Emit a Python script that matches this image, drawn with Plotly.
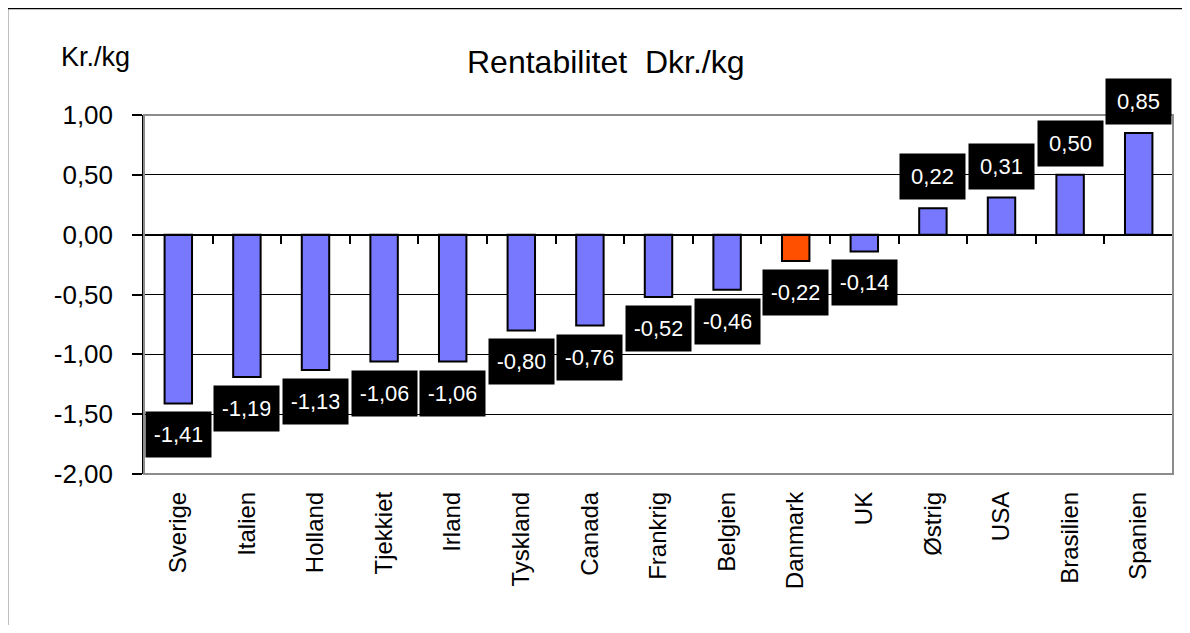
import plotly.graph_objects as go

countries = ["Sverige", "Italien", "Holland", "Tjekkiet", "Irland", "Tyskland", "Canada",
             "Frankrig", "Belgien", "Danmark", "UK", "Østrig", "USA", "Brasilien", "Spanien"]
values = [-1.41, -1.19, -1.13, -1.06, -1.06, -0.80, -0.76, -0.52, -0.46, -0.22, -0.14,
          0.22, 0.31, 0.50, 0.85]
highlight = "Danmark"
y_ticks = [-2.0, -1.5, -1.0, -0.5, 0.0, 0.5, 1.0]
title_text = "Rentabilitet  Dkr./kg"
unit_text = "Kr./kg"


def fmt(v):
    return f"{v:.2f}".replace(".", ",")


FONT = "Liberation Sans, Arial, sans-serif"
BLUE = "#7878FF"
ORANGE = "#FF5000"
colors = [ORANGE if c == highlight else BLUE for c in countries]

# page offset (default body margin)
OFF = 8
W, H = 1182, 617
L, T = 144 - OFF, 115 - OFF
plot_right, plot_bottom = 1173 - OFF, 474 - OFF
R, B = W - plot_right, H - plot_bottom
pw, ph = W - L - R, H - T - B


def px_x(p):
    return (p - OFF - L) / pw


def px_y(p):
    return (plot_bottom - (p - OFF)) / ph


fig = go.Figure()
fig.add_trace(go.Bar(
    x=countries, y=values, width=0.4,
    marker=dict(color=colors, line=dict(color="black", width=2)),
    hoverinfo="skip", showlegend=False,
))
# invisible helper trace for the category axis drawn at zero
fig.add_trace(go.Scatter(
    x=countries, y=values, xaxis="x2", yaxis="y", mode="markers",
    marker=dict(opacity=0), hoverinfo="skip", showlegend=False,
))

ymin, ymax = y_ticks[0], y_ticks[-1]
zero_pos = (0 - ymin) / (ymax - ymin)

fig.update_layout(
    width=W, height=H,
    margin=dict(l=L, r=R, t=T, b=B, pad=0),
    paper_bgcolor="white", plot_bgcolor="white",
    font=dict(family=FONT, color="black"),
    xaxis=dict(
        type="category", categoryorder="array", categoryarray=countries,
        range=[-0.5, len(countries) - 0.5],
        showgrid=False, showline=False, zeroline=False, ticks="",
        tickangle=-90, tickfont=dict(size=24, family=FONT, color="black"),
        ticklabelstandoff=12,
    ),
    xaxis2=dict(
        type="category", categoryorder="array", categoryarray=countries,
        range=[-0.5, len(countries) - 0.5],
        overlaying="x", anchor="free", position=zero_pos, side="bottom",
        showgrid=False, zeroline=False, showticklabels=False,
        showline=True, linecolor="black", linewidth=1.5,
        ticks="outside", tickson="boundaries", ticklen=9, tickwidth=1.5, tickcolor="black",
    ),
    yaxis=dict(
        range=[ymin, ymax], tickvals=y_ticks, ticktext=[fmt(v) for v in y_ticks],
        showgrid=True, gridcolor="black", gridwidth=1,
        zeroline=False, showline=True, linecolor="black", linewidth=1.5,
        ticks="outside", ticklen=10, tickwidth=1.5, tickcolor="black",
        tickfont=dict(size=26, family=FONT, color="black"),
        ticklabelstandoff=14,
    ),
)

shapes = [
    # plot area border (gray)
    dict(type="rect", xref="paper", yref="paper", x0=0, x1=1, y0=0, y1=1,
         line=dict(color="#8C8C8C", width=2), layer="above"),
    # outer chart border
    dict(type="rect", xref="paper", yref="paper",
         x0=px_x(7.5), x1=px_x(1230), y0=px_y(680), y1=px_y(8.5),
         line=dict(color="black", width=1.5), layer="above"),
]
fig.update_layout(shapes=shapes)

annotations = []
for c, v in zip(countries, values):
    annotations.append(dict(
        x=c, y=v, xref="x", yref="y",
        text=fmt(v),
        showarrow=False,
        yanchor="top" if v < 0 else "bottom",
        yshift=-8 if v < 0 else 8,
        width=48, height=28, valign="middle", align="center",
        bgcolor="black", borderpad=8.5,
        font=dict(size=22, color="white", family=FONT),
    ))
annotations.append(dict(
    x=px_x(605), y=px_y(62), xref="paper", yref="paper",
    text=title_text, showarrow=False, xanchor="center", yanchor="middle",
    font=dict(size=32, color="black", family=FONT),
))
annotations.append(dict(
    x=px_x(59), y=px_y(57), xref="paper", yref="paper",
    text=unit_text, showarrow=False, xanchor="left", yanchor="middle",
    font=dict(size=27, color="black", family=FONT),
))
fig.update_layout(annotations=annotations)

fig.write_html("out.html")
